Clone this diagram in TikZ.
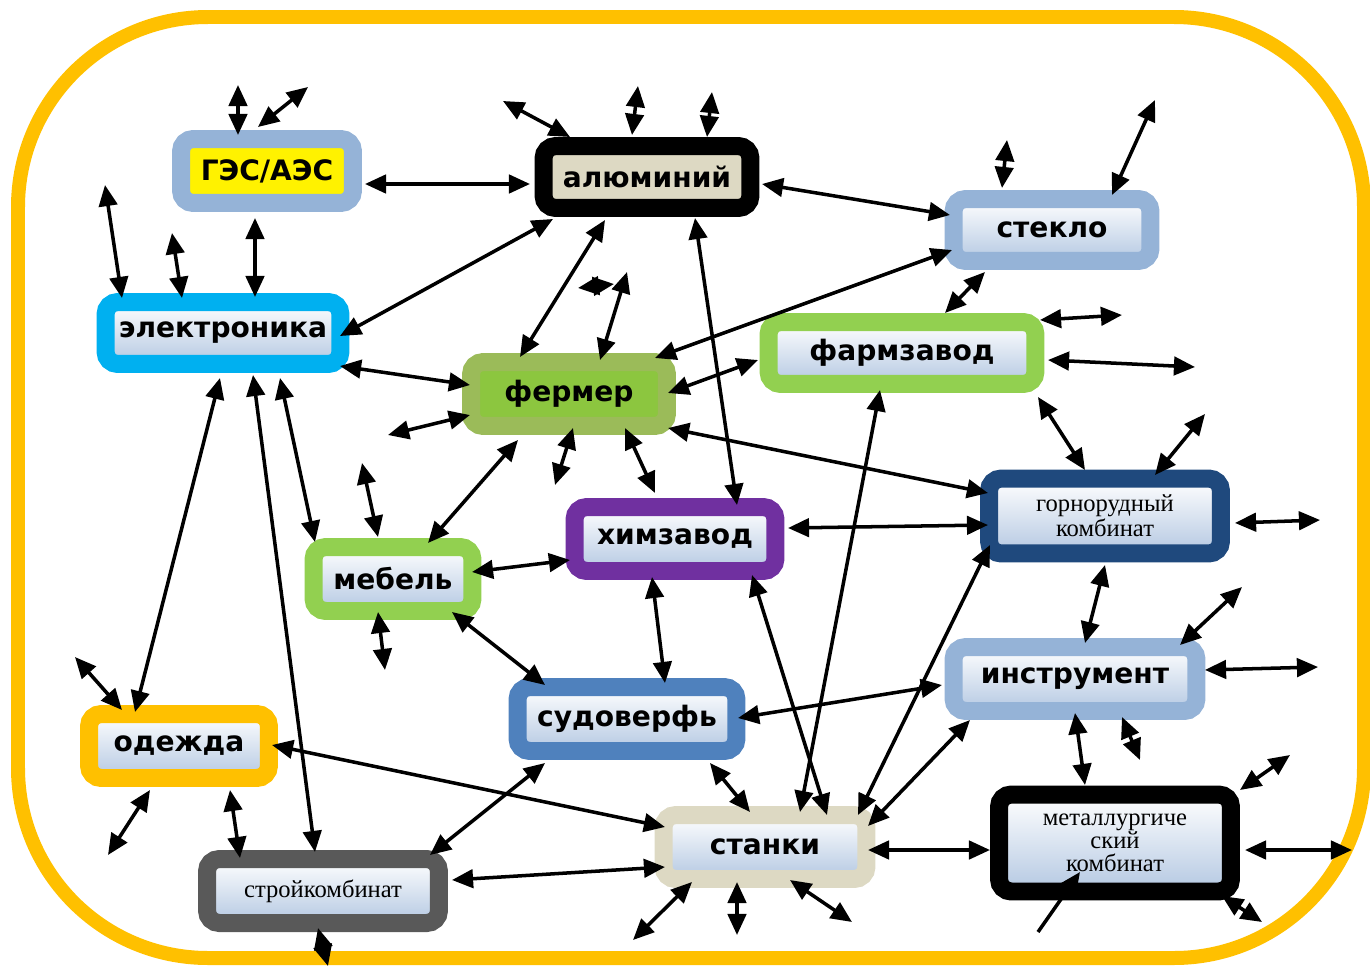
\documentclass[tikz,border=0pt]{standalone}
\usepackage{fontspec}
\setmainfont{Liberation Serif}
\setsansfont{DejaVu Sans}
\usetikzlibrary{calc,arrows.meta}

\definecolor{framec}{HTML}{FFC000}
\definecolor{lblue}{HTML}{95B3D7}
\definecolor{mblue}{HTML}{4F81BD}
\definecolor{dblue}{HTML}{1F497D}
\definecolor{cyanb}{HTML}{00B0F0}
\definecolor{lgreen}{HTML}{92D050}
\definecolor{olive}{HTML}{9BBB59}
\definecolor{farmin}{HTML}{8CC63F}
\definecolor{purp}{HTML}{7030A0}
\definecolor{beige}{HTML}{DDD9C3}
\definecolor{dgray}{HTML}{595959}
\definecolor{pale}{HTML}{B4C8E2}

\begin{document}
\begin{tikzpicture}[x=0.02cm, y=-0.02cm,
    box/.style={draw, rounded corners=7pt, line width=0.36cm, inner sep=0pt,
        minimum height=1.28cm, align=center,
        font=\sffamily\bfseries\fontsize{16}{18}\selectfont},
    grad/.style={top color=white, bottom color=pale},
    serif/.style={font=\rmfamily\fontsize{14}{13}\selectfont},
    arr/.style={line width=2pt, {Triangle[length=12pt,width=10.5pt]}-{Triangle[length=12pt,width=10.5pt]}},
    tip/.style={line width=2pt, -{Triangle[length=12pt,width=10.5pt]}}]
    \useasboundingbox (0,0) rectangle (1370,970);
    \draw[framec, line width=0.28cm, rounded corners=3.8cm] (18,17) rectangle (1364,958);

    % enterprises
    \node[box, draw=lblue, fill=yellow, minimum width=3.44cm] (ges) at (267,171) {ГЭС/АЭС};
    \node[box, draw=black, fill=beige, minimum width=4.14cm, minimum height=1.24cm] (alum) at (647,177) {алюминий};
    \node[box, grad, draw=lblue, minimum width=3.94cm, minimum height=1.24cm] (glass) at (1052,230) {стекло};
    \node[box, grad, draw=cyanb, minimum width=4.7cm, minimum height=1.24cm] (elec) at (223,333) {электроника};
    \node[box, grad, draw=lgreen, minimum width=5.34cm, minimum height=1.24cm] (pharm) at (902,353) {фармзавод};
    \node[box, draw=olive, fill=farmin, minimum width=3.92cm] (farm) at (569,394) {фермер};
    \node[box, grad, serif, draw=dblue, minimum width=4.64cm, minimum height=1.5cm] (mine) at (1105,516) {горнорудный\\комбинат};
    \node[box, grad, draw=purp, minimum width=4.02cm] (chem) at (675,539) {химзавод};
    \node[box, grad, draw=lgreen, minimum width=3.18cm] (furn) at (393,579) {мебель};
    \node[box, grad, draw=lblue, minimum width=4.86cm] (tools) at (1075,679) {инструмент};
    \node[box, grad, draw=mblue, minimum width=4.38cm] (ship) at (627,719) {судоверфь};
    \node[box, grad, draw=framec, minimum width=3.6cm] (cloth) at (179,746) {одежда};
    \node[box, grad, draw=beige, minimum width=4.06cm] (mach) at (765,847) {станки};
    \node[box, grad, serif, draw=black, minimum width=4.64cm, minimum height=1.94cm] (metal) at (1115,843) {металлургиче\\ский\\комбинат};
    \node[box, grad, serif, draw=dgray, minimum width=4.64cm] (build) at (323,891) {стройкомбинат};

    % free ends
    \coordinate (ges1) at (238,85);
    \coordinate (ges2) at (308,87);
    \coordinate (alum1) at (503,101);
    \coordinate (alum2) at (638,86);
    \coordinate (alum3) at (712,92);
    \coordinate (glass1) at (1007,140);
    \coordinate (glass2) at (1155,100);
    \coordinate (elec1) at (105,185);
    \coordinate (elec2) at (172,233);
    \coordinate (farm1) at (627,272);
    \coordinate (farm2) at (388,435);
    \coordinate (farm3) at (555,485);
    \coordinate (farm4) at (655,493);
    \coordinate (bow1) at (578,288);
    \coordinate (bow2) at (614,284);
    \coordinate (pharm1) at (1122,315);
    \coordinate (pharm2) at (1195,367);
    \coordinate (mine1) at (1205,414);
    \coordinate (mine2) at (1320,520);
    \coordinate (furn1) at (362,463);
    \coordinate (furn2) at (385,670);
    \coordinate (tools1) at (1242,587);
    \coordinate (tools2) at (1318,667);
    \coordinate (tools3) at (1140,760);
    \coordinate (cloth1) at (75,657);
    \coordinate (cloth2) at (108,855);
    \coordinate (mach1) at (633,940);
    \coordinate (mach2) at (737,935);
    \coordinate (mach3) at (852,922);
    \coordinate (metal1) at (1290,755);
    \coordinate (metal2) at (1352,850);
    \coordinate (metal3) at (1038,932);
    \coordinate (metal4) at (1262,922);
    \coordinate (build1) at (328,966);

    % links between enterprises
    \draw[arr] ($(ges)+(98,13)$) -- ($(alum)+(-117,7)$);
    \draw[arr] ($(ges)+(-12,47)$) -- ($(elec)+(32,-36)$);
    \draw[arr] ($(alum)+(115,7)$) -- ($(glass)+(-102,-15)$);
    \draw[arr] ($(alum)+(-94,42)$) -- ($(elec)+(117,3)$);
    \draw[arr] ($(alum)+(-42,43)$) -- ($(farm)+(-49,-37)$);
    \draw[arr] ($(alum)+(48,41)$) -- ($(chem)+(62,-34)$);
    \draw[arr] ($(glass)+(-100,20)$) -- ($(farm)+(86,-36)$);
    \draw[arr] ($(glass)+(-67,42)$) -- ($(pharm)+(43,-40)$);
    \draw[arr] ($(elec)+(117,33)$) -- ($(farm)+(-99,-9)$);
    \draw[arr] ($(elec)+(-3,45)$) -- ($(cloth)+(-44,-34)$);
    \draw[arr] ($(elec)+(30,42)$) -- ($(build)+(-8,-39)$);
    \draw[arr] ($(elec)+(57,45)$) -- ($(furn)+(-78,-37)$);
    \draw[arr] ($(farm)+(99,-1)$) -- ($(pharm)+(-144,7)$);
    \draw[arr] ($(farm)+(99,34)$) -- ($(mine)+(-117,-23)$);
    \draw[arr] ($(farm)+(-51,46)$) -- ($(furn)+(35,-36)$);
    \draw[arr] ($(pharm)+(136,44)$) -- ($(mine)+(-20,-46)$);
    \draw[arr] ($(pharm)+(-22,37)$) -- ($(mach)+(35,-35)$);
    \draw[arr] ($(mine)+(-117,9)$) -- ($(chem)+(113,-11)$);
    \draw[arr] ($(mine)+(0,49)$) -- ($(tools)+(10,-36)$);
    \draw[arr] ($(mine)+(-115,29)$) -- ($(mach)+(93,-32)$);
    \draw[arr] ($(chem)+(-105,21)$) -- ($(furn)+(79,-7)$);
    \draw[arr] ($(chem)+(-23,38)$) -- ($(ship)+(38,-36)$);
    \draw[arr] ($(chem)+(77,36)$) -- ($(mach)+(62,-32)$);
    \draw[arr] ($(furn)+(59,33)$) -- ($(ship)+(-82,-34)$);
    \draw[arr] ($(tools)+(-133,6)$) -- ($(ship)+(111,-1)$);
    \draw[arr] ($(tools)+(0,34)$) -- ($(metal)+(-30,-58)$);
    \draw[arr] ($(tools)+(-105,41)$) -- ($(mach)+(103,-21)$);
    \draw[arr] ($(ship)+(83,44)$) -- ($(mach)+(-15,-35)$);
    \draw[arr] ($(ship)+(-82,44)$) -- ($(build)+(107,-36)$);
    \draw[arr] ($(cloth)+(51,44)$) -- ($(build)+(-83,-33)$);
    \draw[arr] ($(cloth)+(93,-1)$) -- ($(mach)+(-100,-20)$);
    \draw[arr] ($(mach)+(-100,20)$) -- ($(build)+(129,-11)$);
    \draw[arr] ($(mach)+(103,3)$) -- ($(metal)+(-125,7)$);

    % links going outside
    \draw[arr] ($(ges)+(-29,-36)$) -- (ges1);
    \draw[arr] ($(ges)+(-9,-44)$) -- (ges2);
    \draw[arr] ($(alum)+(-77,-40)$) -- (alum1);
    \draw[arr] ($(alum)+(-15,-42)$) -- (alum2);
    \draw[arr] ($(alum)+(60,-40)$) -- (alum3);
    \draw[arr] ($(glass)+(-50,-42)$) -- (glass1);
    \draw[arr] ($(glass)+(60,-35)$) -- (glass2);
    \draw[arr] ($(elec)+(-101,-35)$) -- (elec1);
    \draw[arr] ($(elec)+(-41,-35)$) -- (elec2);
    \draw[arr] ($(farm)+(31,-34)$) -- (farm1);
    \draw[arr] ($(farm)+(-99,21)$) -- (farm2);
    \draw[arr] ($(farm)+(4,34)$) -- (farm3);
    \draw[arr] ($(farm)+(56,34)$) -- (farm4);
    \draw[arr] (bow1) -- (bow2);
    \draw[arr] ($(pharm)+(138,-33)$) -- (pharm1);
    \draw[arr] ($(pharm)+(146,7)$) -- (pharm2);
    \draw[arr] ($(mine)+(50,-41)$) -- (mine1);
    \draw[arr] ($(mine)+(130,7)$) -- (mine2);
    \draw[arr] ($(furn)+(-15,-42)$) -- (furn1);
    \draw[arr] ($(furn)+(-15,33)$) -- (furn2);
    \draw[arr] ($(tools)+(105,-34)$) -- (tools1);
    \draw[arr] ($(tools)+(130,-9)$) -- (tools2);
    \draw[arr] ($(tools)+(47,38)$) -- (tools3);
    \draw[arr] ($(cloth)+(-57,-36)$) -- (cloth1);
    \draw[arr] ($(cloth)+(-29,44)$) -- (cloth2);
    \draw[arr] ($(mach)+(-73,35)$) -- (mach1);
    \draw[arr] ($(mach)+(-28,35)$) -- (mach2);
    \draw[arr] ($(mach)+(25,33)$) -- (mach3);
    \draw[arr] ($(metal)+(125,-53)$) -- (metal1);
    \draw[arr] ($(metal)+(130,7)$) -- (metal2);
    \draw[tip] (metal3) -- ($(metal)+(-35,29)$);
    \draw[arr] ($(metal)+(107,53)$) -- (metal4);
    \draw[arr] ($(build)+(-5,37)$) -- (build1);
\end{tikzpicture}
\end{document}
